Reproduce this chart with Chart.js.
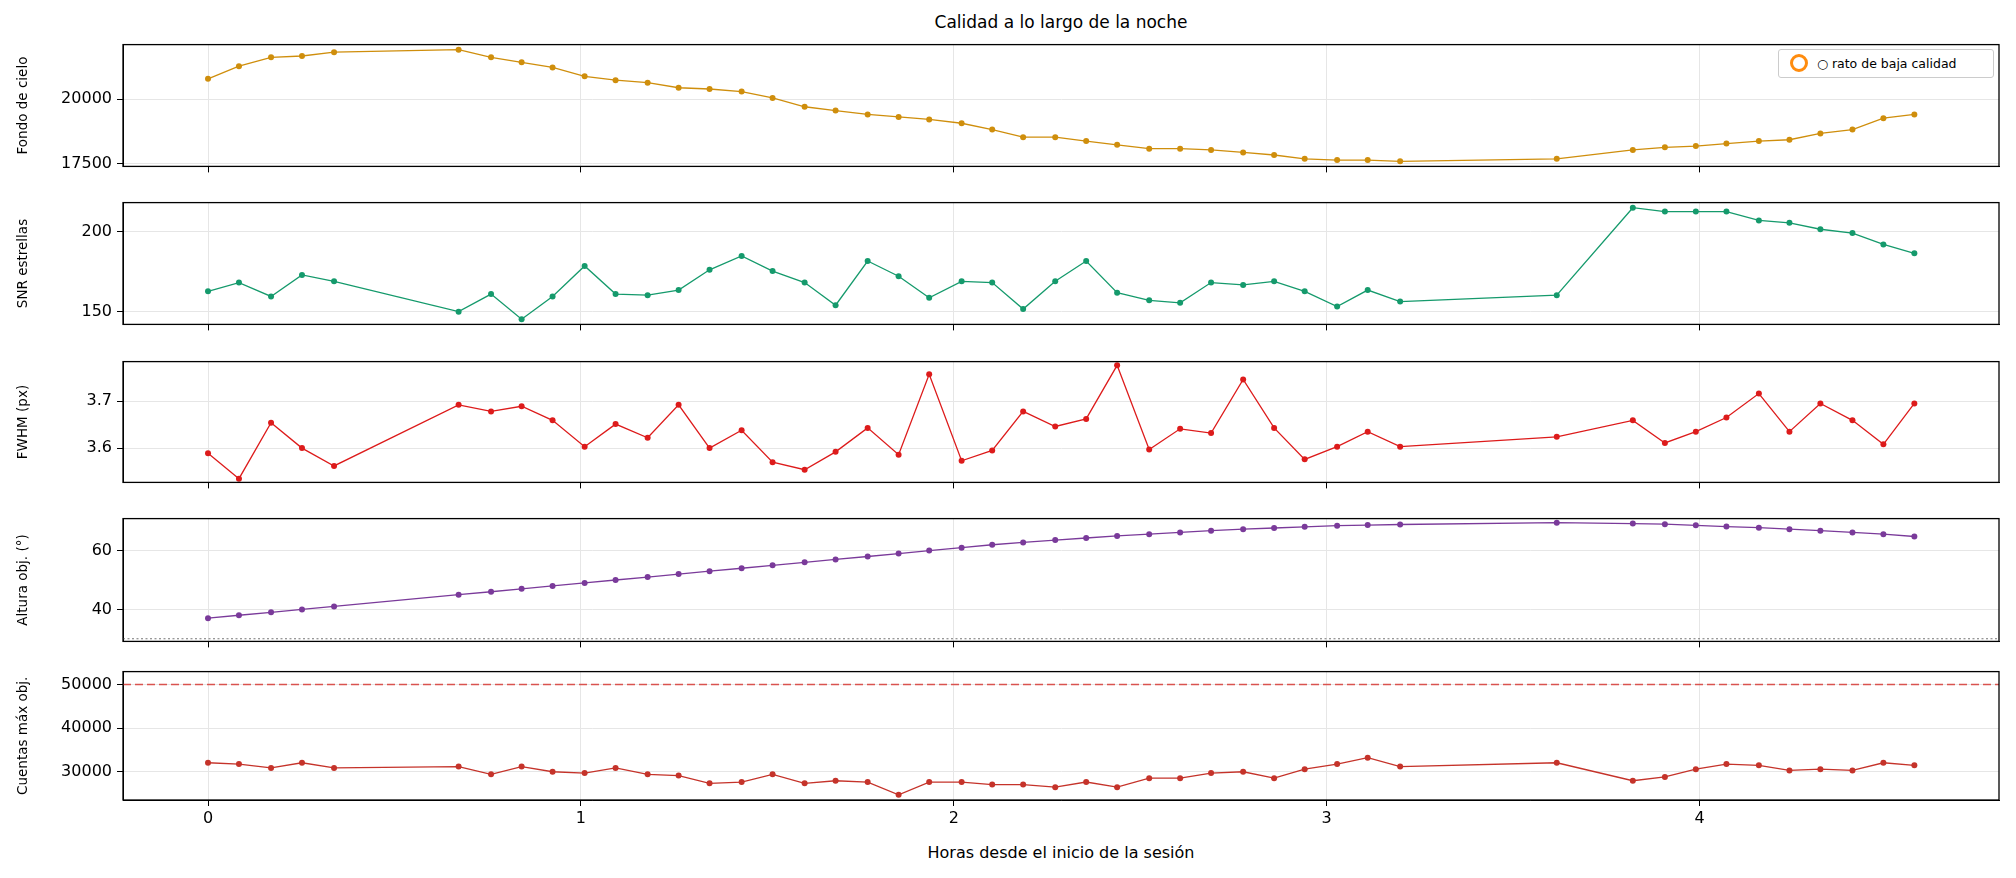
<!DOCTYPE html>
<html>
<head>
<meta charset="utf-8">
<script src="https://cdn.jsdelivr.net/npm/chart.js@4.4.1/dist/chart.umd.min.js"></script>
<style>
  body { margin: 0; background: #fff; font-family: "DejaVu Sans", sans-serif; }
  .panel { position: absolute; left: 0; width: 2016px; }
  #title { position: absolute; top: 12px; left: 123px; width: 1876px; text-align: center; font-size: 17px; }
  #xlabel { position: absolute; top: 843px; left: 123px; width: 1876px; text-align: center; font-size: 16px; }
  #legend { position: absolute; top: 49px; left: 1778px; width: 214px; height: 27px; border: 1px solid #ccc;
    border-radius: 3px; background: #fff; font-size: 12.5px; line-height: 27px; }
  #legend span.dot { display: inline-block; width: 12px; height: 12px; border: 3px solid #ff8c0e; border-radius: 50%;
    vertical-align: middle; margin: -3px 9px 0 11px; }
</style>
</head>
<body>
<div id="title">Calidad a lo largo de la noche</div>
<div class="panel" style="top:30px;height:151px"><canvas id="p1"></canvas></div>
<div class="panel" style="top:188px;height:151px"><canvas id="p2"></canvas></div>
<div class="panel" style="top:347px;height:150px"><canvas id="p3"></canvas></div>
<div class="panel" style="top:504px;height:152px"><canvas id="p4"></canvas></div>
<div class="panel" style="top:657px;height:177px"><canvas id="p5"></canvas></div>
<div id="legend"><span class="dot"></span>○ rato de baja calidad</div>
<div id="xlabel">Horas desde el inicio de la sesión</div>
<script>
const horas = [0, 0.083, 0.169, 0.252, 0.338,
  0.672, 0.759, 0.841, 0.924, 1.010, 1.093, 1.179, 1.262, 1.345, 1.431, 1.514, 1.600, 1.683, 1.769, 1.852,
  1.934, 2.021, 2.103, 2.186, 2.272, 2.355, 2.438, 2.524, 2.607, 2.690, 2.776, 2.859, 2.941, 3.028, 3.110, 3.197,
  3.617,
  3.821, 3.907, 3.990, 4.072, 4.159, 4.241, 4.324, 4.410, 4.493, 4.576];

const fondo = [20784, 21274, 21617, 21666, 21813,
  21911, 21617, 21421, 21225, 20882, 20735, 20637, 20441, 20392, 20294, 20049, 19706, 19559, 19412, 19314,
  19216, 19069, 18824, 18530, 18530, 18383, 18236, 18089, 18089, 18040, 17942, 17844, 17697, 17648, 17648, 17599,
  17697,
  18040, 18138, 18187, 18285, 18383, 18432, 18677, 18824, 19265, 19412];

const snr = [162.7, 168.2, 159.5, 173, 169,
  150, 161, 145.2, 159.5, 178.6, 161, 160.3, 163.5, 176.2, 184.9, 175.4, 168.2, 154, 181.7, 172.2,
  158.7, 169, 168.2, 151.6, 169, 181.7, 161.9, 157.1, 155.5, 168.2, 166.7, 169, 162.7, 153.2, 163.5, 156.3,
  160.3,
  215.1, 212.7, 212.7, 212.7, 207.1, 205.6, 201.6, 199.2, 192.1, 186.5];

const fwhm = [3.589, 3.535, 3.654, 3.600, 3.562,
  3.692, 3.678, 3.689, 3.659, 3.603, 3.651, 3.622, 3.692, 3.600, 3.638, 3.570, 3.554, 3.592, 3.643, 3.586,
  3.757, 3.573, 3.595, 3.678, 3.646, 3.662, 3.776, 3.597, 3.641, 3.632, 3.746, 3.643, 3.576, 3.603, 3.635, 3.603,
  3.624,
  3.659, 3.611, 3.635, 3.665, 3.716, 3.635, 3.695, 3.659, 3.608, 3.695];

const altura = [37, 38, 39, 40, 41,
  45, 46, 47, 48, 49, 50, 51, 52, 53, 54, 55, 56, 57, 58, 59,
  60, 61, 62, 62.8, 63.6, 64.3, 65, 65.6, 66.2, 66.8, 67.3, 67.7, 68.1, 68.5, 68.7, 68.9,
  69.5,
  69.2, 69, 68.6, 68.2, 67.8, 67.3, 66.8, 66.2, 65.6, 64.8];

const cuentas = [32059, 31765, 30882, 32059, 30882,
  31176, 29412, 31176, 30000, 29706, 30882, 29412, 29118, 27353, 27647, 29412, 27353, 27941, 27647, 24706,
  27647, 27647, 27059, 27059, 26471, 27647, 26471, 28529, 28529, 29706, 30000, 28529, 30588, 31765, 33235, 31176,
  32059,
  27941, 28824, 30588, 31765, 31471, 30294, 30588, 30294, 32059, 31471];

const xTicks = [0, 1, 2, 3, 4];
const altMinima = 30;
const saturacion = 50000;

const X_MIN = -0.228, X_MAX = 4.803;
const FONT = "DejaVu Sans";

// marco completo alrededor del área de datos
const frame = {
  id: "frame",
  afterDraw(chart) {
    const { ctx, chartArea: a } = chart;
    ctx.save();
    ctx.strokeStyle = "#000";
    ctx.lineWidth = 1.3;
    ctx.strokeRect(a.left, a.top, a.right - a.left, a.bottom - a.top);
    ctx.restore();
  },
};

function pts(ys) {
  return horas.map((x, i) => ({ x: x, y: ys[i] }));
}

function makePanel(id, values, color, cfg) {
  const datasets = [{
    data: pts(values),
    borderColor: color,
    backgroundColor: color,
    borderWidth: 1.3,
    pointRadius: 3,
    pointBorderWidth: 0,
  }];
  if (cfg.refLine) {
    datasets.push({
      data: [{ x: X_MIN, y: cfg.refLine.y }, { x: X_MAX, y: cfg.refLine.y }],
      borderColor: cfg.refLine.color,
      borderWidth: cfg.refLine.width,
      borderDash: cfg.refLine.dash,
      pointRadius: 0,
    });
  }
  new Chart(document.getElementById(id), {
    type: "line",
    data: { datasets: datasets },
    plugins: [frame],
    options: {
      responsive: true,
      maintainAspectRatio: false,
      animation: false,
      clip: false,
      layout: { padding: { top: 5, right: 17, left: 12, bottom: 0 } },
      plugins: { legend: { display: false }, tooltip: { enabled: false } },
      scales: {
        x: {
          type: "linear",
          min: X_MIN,
          max: X_MAX,
          afterBuildTicks: (s) => { s.ticks = xTicks.map((v) => ({ value: v })); },
          afterFit: (s) => { s.height = cfg.last ? 34 : 14; },
          grid: { color: "#e6e6e6", tickColor: "#000", tickLength: 6 },
          border: { color: "#000" },
          ticks: {
            color: "#000",
            font: { family: FONT, size: 16 },
            callback: (v) => (cfg.last ? String(v) : ""),
          },
        },
        y: {
          min: cfg.min,
          max: cfg.max,
          afterBuildTicks: (s) => { s.ticks = cfg.ticks.map((v) => ({ value: v })); },
          afterFit: (s) => { s.width = 111; },
          grid: { color: "#e6e6e6", tickColor: "#000", tickLength: 6 },
          border: { color: "#000" },
          ticks: { color: "#000", font: { family: FONT, size: 16 }, padding: 5, callback: (v) => String(v) },
          title: { display: true, text: cfg.label, color: "#000", font: { family: FONT, size: 13.5 }, padding: 3 },
        },
      },
    },
  });
}

makePanel("p1", fondo, "#cf8e0c", { label: "Fondo de cielo", min: 17403, max: 22107, ticks: [17500, 20000] });
makePanel("p2", snr, "#159a6c", { label: "SNR estrellas", min: 142, max: 218.3, ticks: [150, 200] });
makePanel("p3", fwhm, "#dd1b1b", { label: "FWHM (px)", min: 3.527, max: 3.784, ticks: [3.6, 3.7] });
makePanel("p4", altura, "#7a3a9a", { label: "Altura obj. (°)", min: 29.1, max: 70.9, ticks: [40, 60],
  refLine: { y: altMinima, color: "#777", width: 1.2, dash: [2, 2.5] } });
makePanel("p5", cuentas, "#c5332a", { label: "Cuentas máx obj.", min: 23530, max: 52941, ticks: [30000, 40000, 50000],
  last: true, refLine: { y: saturacion, color: "#d9534f", width: 1.6, dash: [8, 4] } });
</script>
</body>
</html>
